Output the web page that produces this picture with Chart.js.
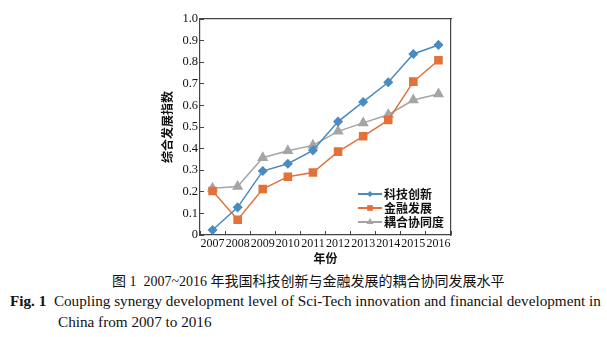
<!DOCTYPE html>
<html>
<head>
<meta charset="utf-8">
<script src="https://cdn.jsdelivr.net/npm/chart.js@4.4.0/dist/chart.umd.min.js"></script>
<style>
  body { margin: 0; background: #fff; }
  #wrap { position: relative; width: 607px; height: 337px; }
  #box { position: absolute; left: 0; top: 0; width: 607px; height: 266px; }
  .cap { position: absolute; white-space: nowrap; color: #111; }
  #cap1 { top: 270px; left: 112px; font: 14px "Liberation Serif", "Noto Sans CJK SC", serif; }
  #cap2 { top: 292px; left: 10px; font: 15.2px "Liberation Serif", serif; }
  #cap3 { top: 313px; left: 58px; font: 15.2px "Liberation Serif", serif; }
</style>
</head>
<body>
<div id="wrap">
  <div id="box"><canvas id="myChart"></canvas></div>
  <div class="cap" id="cap1">图 1&nbsp;&nbsp;2007~2016 年我国科技创新与金融发展的耦合协同发展水平</div>
  <div class="cap" id="cap2"><b>Fig. 1</b>&nbsp;&nbsp;Coupling synergy development level of Sci-Tech innovation and financial development in</div>
  <div class="cap" id="cap3">China from 2007 to 2016</div>
</div>
<script>
const years = ['2007', '2008', '2009', '2010', '2011', '2012', '2013', '2014', '2015', '2016'];
const techInnovation = [0.023, 0.128, 0.296, 0.330, 0.392, 0.525, 0.616, 0.707, 0.838, 0.880];
const financeDev = [0.204, 0.071, 0.213, 0.270, 0.289, 0.386, 0.457, 0.532, 0.710, 0.809];
const coupling = [0.216, 0.224, 0.358, 0.390, 0.415, 0.480, 0.519, 0.557, 0.625, 0.653];
const yTicks = [0, 0.1, 0.2, 0.3, 0.4, 0.5, 0.6, 0.7, 0.8, 0.9, 1.0];

const serif = '"Liberation Serif", "DejaVu Serif", serif';
const cjk = '"Noto Sans CJK SC", sans-serif';

const ctx = document.getElementById('myChart').getContext('2d');

// legend inside plot, drawn with the dataset styles
const legendPlugin = {
  id: 'innerLegend',
  afterDraw(chart) {
    const c = chart.ctx;
    const lx = 358, ly = 194, gap = 14;
    c.save();
    chart.data.datasets.forEach((ds, i) => {
      const y = ly + i * gap;
      c.strokeStyle = ds.borderColor;
      c.lineWidth = 2;
      c.beginPath();
      c.moveTo(lx, y);
      c.lineTo(lx + 24, y);
      c.stroke();
      c.fillStyle = ds.pointBackgroundColor;
      Chart.helpers.drawPoint(c, {
        pointStyle: ds.pointStyle, radius: ds.pointRadius - 1, rotation: 0, borderWidth: 0
      }, lx + 12, y);
      c.fillStyle = '#111';
      c.font = 'bold 12px ' + cjk;
      c.textBaseline = 'middle';
      c.textAlign = 'left';
      c.fillText(ds.label, lx + 26, y);
    });
    c.restore();
  }
};

const data = {
  labels: years,
  datasets: [
    {
      label: '科技创新',
      data: techInnovation,
      borderColor: '#4a8bc2',
      pointBackgroundColor: '#4a8bc2',
      pointBorderColor: '#4a8bc2',
      pointStyle: 'rectRot',
      pointRadius: 4,
      borderWidth: 1.5,
    },
    {
      label: '金融发展',
      data: financeDev,
      borderColor: '#e2713a',
      pointBackgroundColor: '#e2713a',
      pointBorderColor: '#e2713a',
      pointStyle: 'rect',
      pointRadius: 5,
      borderWidth: 1.5,
    },
    {
      label: '耦合协同度',
      data: coupling,
      borderColor: '#a5a5a5',
      pointBackgroundColor: '#a5a5a5',
      pointBorderColor: '#a5a5a5',
      pointStyle: 'triangle',
      pointRadius: 5,
      borderWidth: 1.5,
    },
  ],
};

// negative tick length makes the tick marks point into the plot
const inwardTicks = { drawOnChartArea: false, drawTicks: true, tickLength: -4, color: '#444', lineWidth: 1 };
const frameGrid = { drawOnChartArea: false, drawTicks: false };
const frameBorder = { display: true, color: '#444', width: 1.2 };

const config = {
  type: 'line',
  data: data,
  options: {
    responsive: true,
    maintainAspectRatio: false,
    animation: false,
    layout: { padding: { left: 160, right: 156, top: 19, bottom: 0 } },
    plugins: { legend: { display: false }, tooltip: { enabled: false } },
    scales: {
      x: {
        offset: true,
        grid: Object.assign({ offset: true }, inwardTicks),
        border: frameBorder,
        ticks: { color: '#111', font: { family: serif, size: 12 }, padding: 6, maxRotation: 0, autoSkip: false },
        title: { display: true, text: '年份', color: '#111', font: { family: cjk, size: 12, weight: 'bold' }, padding: { top: 0, bottom: 0 } },
        afterFit(scale) { scale.height = 31; },
      },
      x2: {
        position: 'top',
        labels: years,
        offset: true,
        grid: frameGrid,
        border: frameBorder,
        ticks: { display: false },
        afterFit(scale) { scale.height = 0; },
      },
      y: {
        min: 0,
        max: 1,
        afterBuildTicks(scale) { scale.ticks = yTicks.map(v => ({ value: v })); },
        grid: inwardTicks,
        border: frameBorder,
        ticks: {
          color: '#111',
          font: { family: serif, size: 12.5 },
          padding: 6,
          callback(value) { return value === 0 ? '0' : value.toFixed(1); },
        },
        title: { display: true, text: '综合发展指数', color: '#111', font: { family: cjk, size: 12, weight: 'bold' }, padding: 0 },
        afterFit(scale) { scale.width = 40; },
      },
      y2: {
        position: 'right',
        min: 0,
        max: 1,
        grid: frameGrid,
        border: frameBorder,
        ticks: { display: false },
        afterFit(scale) { scale.width = 0; },
      },
    },
  },
  plugins: [legendPlugin],
};

const myChart = new Chart(ctx, config);
</script>
</body>
</html>
